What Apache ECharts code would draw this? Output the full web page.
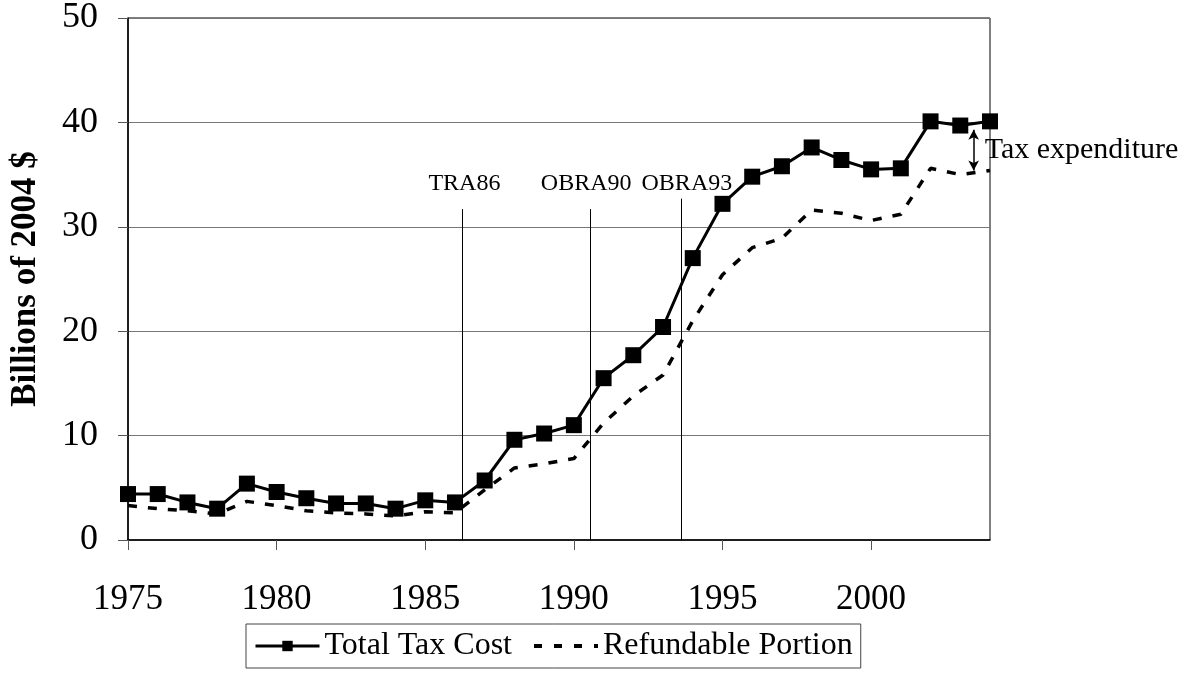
<!DOCTYPE html>
<html lang="en">
<head>
    <meta charset="utf-8">
    <title>Tax Cost</title>
    <script src="https://cdn.jsdelivr.net/npm/echarts@6/dist/echarts.min.js"></script>
    <style>
        html, body { margin: 0; padding: 0; background: #fff; }
        #chart { width: 1192px; height: 673px; }
    </style>
</head>
<body>
    <div id="chart"></div>
    <script>
        // data
        const years = [1975, 1976, 1977, 1978, 1979, 1980, 1981, 1982, 1983, 1984,
                       1985, 1986, 1987, 1988, 1989, 1990, 1991, 1992, 1993, 1994,
                       1995, 1996, 1997, 1998, 1999, 2000, 2001, 2002, 2003, 2004];
        const totalCost = [4.4, 4.4, 3.6, 3.0, 5.4, 4.6, 4.0, 3.5, 3.5, 3.0,
                           3.8, 3.6, 5.7, 9.6, 10.2, 11.0, 15.5, 17.7, 20.4, 27.0,
                           32.2, 34.8, 35.8, 37.6, 36.4, 35.5, 35.6, 40.1, 39.7, 40.1];
        const refundable = [3.3, 3.0, 2.8, 2.5, 3.7, 3.3, 2.8, 2.6, 2.5, 2.3,
                            2.7, 2.6, 4.8, 6.9, 7.3, 7.8, 11.2, 13.8, 15.8, 21.0,
                            25.4, 28.0, 28.9, 31.6, 31.3, 30.6, 31.2, 35.6, 35.0, 35.4];
        const events = ['TRA86', 'OBRA90', 'OBRA93'];
        const eventYears = [1986.25, 1990.55, 1993.6];
        const eventTop = [31.7, 31.7, 32.7];
        const eventLabelShift = [2, -4, 6];

        const font = '"Liberation Serif", "Times New Roman", serif';
        const chart = echarts.init(document.getElementById('chart'));

        const pairs = arr => years.map((y, i) => [y, arr[i]]);

        const eventLines = eventYears.map((x, i) => ([
            { coord: [x, 0] },
            { coord: [x, eventTop[i]] }
        ]));

        chart.setOption({
            animation: false,
            grid: {
                left: 128, right: 202, top: 18, bottom: 133,
                show: true, borderColor: '#000', borderWidth: 1
            },
            xAxis: {
                type: 'value', min: 1975, max: 2004, interval: 5,
                axisLine: { lineStyle: { color: '#000', width: 1.5 } },
                axisTick: { show: true, length: 10, lineStyle: { color: '#555' } },
                axisLabel: {
                    fontFamily: font, fontSize: 35, color: '#000', margin: 42,
                    showMaxLabel: false, formatter: v => String(v)
                },
                splitLine: { show: false }
            },
            yAxis: {
                type: 'value', min: 0, max: 50, interval: 10,
                name: 'Billions of 2004 $', nameLocation: 'middle', nameGap: 85,
                nameTextStyle: { fontFamily: font, fontSize: 35, fontWeight: 'bold', color: '#000' },
                axisLine: { show: true, lineStyle: { color: '#000', width: 1.5 } },
                axisTick: { show: true, length: 10, lineStyle: { color: '#555' } },
                axisLabel: { fontFamily: font, fontSize: 36, color: '#000', margin: 30 },
                splitLine: { lineStyle: { color: '#777', width: 1 } }
            },
            legend: {
                top: 624, left: 246,
                itemWidth: 64, itemHeight: 13, itemGap: 20,
                borderColor: '#444', borderWidth: 1, padding: [6, 8, 6, 8],
                textStyle: { fontFamily: font, fontSize: 32, color: '#000' },
                data: [
                    { name: 'Total Tax Cost', lineStyle: { width: 3 } },
                    { name: 'Refundable Portion', itemStyle: { opacity: 0 },
                      lineStyle: { width: 4, type: [8, 12] } }
                ]
            },
            series: [
                {
                    name: 'Total Tax Cost', type: 'line', data: pairs(totalCost),
                    symbol: 'rect', symbolSize: 16,
                    lineStyle: { color: '#000', width: 3 },
                    itemStyle: { color: '#000' },
                    z: 3
                },
                {
                    name: 'Refundable Portion', type: 'line', data: pairs(refundable),
                    symbol: 'none',
                    lineStyle: { color: '#000', width: 3.5, type: [9, 11] },
                    itemStyle: { color: '#000' },
                    z: 2,
                    markLine: {
                        silent: true, symbol: 'none',
                        lineStyle: { color: '#000', width: 1, type: 'solid' },
                        label: { show: false },
                        data: eventLines
                    }
                },
                {
                    name: 'gap', type: 'line', data: [],
                    markLine: {
                        silent: true, symbol: ['arrow', 'arrow'], symbolSize: [8, 10],
                        lineStyle: { color: '#000', width: 1.5, type: 'solid' },
                        label: { show: false },
                        data: [[{ coord: [2003.45, 39.3] }, { coord: [2003.45, 35.4] }]]
                    }
                }
            ]
        });

        // text notes placed from data coordinates
        const notes = eventYears.map((x, i) => {
            const q = chart.convertToPixel({ gridIndex: 0 }, [x, eventTop[i]]);
            return {
                type: 'text', x: q[0] + eventLabelShift[i], y: 196,
                style: {
                    text: events[i], fontFamily: font, fontSize: 24, fill: '#000',
                    align: 'center', verticalAlign: 'bottom'
                }
            };
        });
        const p = chart.convertToPixel({ gridIndex: 0 }, [2003.45, 37.35]);
        notes.push({
            type: 'text', x: p[0] + 11, y: p[1],
            style: {
                text: 'Tax expenditure', fontFamily: font, fontSize: 30, fill: '#000',
                verticalAlign: 'middle'
            }
        });
        chart.setOption({ graphic: notes });
    </script>
</body>
</html>
